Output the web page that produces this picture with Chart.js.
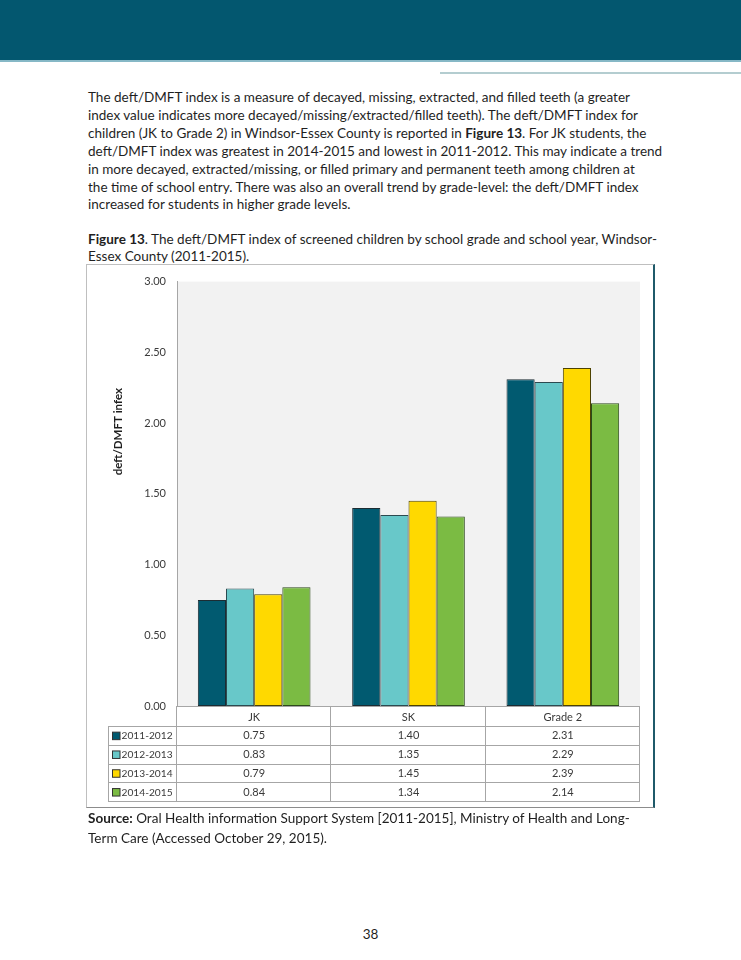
<!DOCTYPE html>
<html><head><meta charset="utf-8">
<script src="https://cdn.jsdelivr.net/npm/chart.js@4.4.0/dist/chart.umd.min.js"></script>
<style>
html,body{margin:0;padding:0;background:#fff;}
body{width:741px;height:960px;position:relative;overflow:hidden;font-family:Lato,"Noto Sans",sans-serif;color:#1f1f1f;}
#hdr{position:absolute;left:0;top:0;width:741px;height:60px;background:#03576f;}
#hdrline{position:absolute;left:0;top:60px;width:741px;height:2px;background:#86b8c6;}
#rule{position:absolute;left:440px;top:72px;width:301px;height:2px;background:#b4cdd0;}
.txt{position:absolute;left:88px;white-space:nowrap;font-size:12.2px;}
#para{top:89px;line-height:17.9px;}
#cap{top:231px;line-height:17px;}
#src{top:809px;line-height:19.5px;}
#pg{position:absolute;left:0;width:741px;text-align:center;top:925px;line-height:18px;font-size:12.2px;}
#frame{position:absolute;left:86px;top:264px;width:569px;height:544px;box-sizing:border-box;border-left:1px solid #bfbfbf;border-top:1px solid #bfbfbf;border-bottom:1px solid #8c8c8c;border-right:2px solid #1f5a6a;pointer-events:none;}
#cv{position:absolute;left:86px;top:264px;}
</style></head>
<body>
<div id="hdr"></div><div id="hdrline"></div><div id="rule"></div>
<div id="para" class="txt"><span id="l1">The deft/DMFT index is a measure of decayed, missing, extracted, and filled teeth (a greater</span><br>index value indicates more decayed/missing/extracted/filled teeth). The deft/DMFT index for<br>children (JK to Grade 2) in Windsor-Essex County is reported in <b>Figure 13</b>. For JK students, the<br>deft/DMFT index was greatest in 2014-2015 and lowest in 2011-2012. This may indicate a trend<br>in more decayed, extracted/missing, or filled primary and permanent teeth among children at<br>the time of school entry. There was also an overall trend by grade-level: the deft/DMFT index<br>increased for students in higher grade levels.</div>
<div id="cap" class="txt"><b>Figure 13</b>. The deft/DMFT index of screened children by school grade and school year, Windsor-<br>Essex County (2011-2015).</div>
<canvas id="cv" width="568" height="543"></canvas>
<div id="frame"></div>
<div id="src" class="txt"><b>Source:</b> Oral Health information Support System [2011-2015], Ministry of Health and Long-<br>Term Care (Accessed October 29, 2015).</div>
<div id="pg">38</div>
<script>
// ---- data ----
const categories = ['JK', 'SK', 'Grade 2'];
const seriesLabels = ['2011-2012', '2012-2013', '2013-2014', '2014-2015'];
const values2011_2012 = [0.75, 1.40, 2.31];
const values2012_2013 = [0.83, 1.35, 2.29];
const values2013_2014 = [0.79, 1.45, 2.39];
const values2014_2015 = [0.84, 1.34, 2.14];
const yTickValues = [0, 0.5, 1.0, 1.5, 2.0, 2.5, 3.0];
const yAxisTitle = 'deft/DMFT infex';

// ---- styles ----
const seriesColors = ['#015a70', '#68c8c9', '#ffd900', '#7bbb43'];
const seriesBorders = ['#1c2c33', '#2c4a50', '#4d4200', '#2d4a1b'];
const allValues = [values2011_2012, values2012_2013, values2013_2014, values2014_2015];

// fit body text width
(function(){
  const mc = document.createElement('canvas').getContext('2d');
  mc.font = '100px Lato';
  const w = mc.measureText(document.getElementById('l1').textContent).width;
  const fs = 100 * 543 / w;
  document.querySelectorAll('.txt,#pg').forEach(e => e.style.fontSize = fs + 'px');
})();

const tablePlugin = {
  id: 'tbl',
  beforeDraw(chart) {
    const {ctx, chartArea: a} = chart;
    ctx.save();
    ctx.fillStyle = '#f2f2f2';
    ctx.fillRect(a.left, a.top, a.right - a.left, a.bottom - a.top);
    ctx.restore();
  },
  afterDraw(chart) {
    const {ctx, chartArea: a} = chart;
    const x = chart.scales.x;
    const n = categories.length;
    const centers = categories.map((c, i) => x.getPixelForValue(i));
    const bounds = [a.left];
    for (let i = 0; i < n - 1; i++) bounds.push((centers[i] + centers[i + 1]) / 2);
    bounds.push(a.right);
    const top = a.bottom, catH = 20, rowH = 18.8;
    const legLeft = a.left - 69;
    const bottom = top + catH + rowH * seriesLabels.length;
    ctx.save();
    ctx.strokeStyle = '#a6a6a6';
    ctx.lineWidth = 1;
    const hl = (x1, x2, y) => { y = Math.round(y) + 0.5; ctx.beginPath(); ctx.moveTo(x1, y); ctx.lineTo(x2, y); ctx.stroke(); };
    const vl = (xx, y1, y2) => { xx = Math.round(xx) - 0.5; ctx.beginPath(); ctx.moveTo(xx, y1); ctx.lineTo(xx, y2); ctx.stroke(); };
    hl(a.left, a.right, top);
    for (let k = 0; k <= seriesLabels.length; k++) hl(legLeft, a.right, top + catH + k * rowH);
    vl(legLeft + 1, top + catH, bottom);
    bounds.forEach(b => vl(b, top, bottom));
    ctx.fillStyle = '#3a3a3a';
    ctx.textAlign = 'center';
    ctx.textBaseline = 'middle';
    ctx.font = '11px Lato';
    categories.forEach((c, i) => ctx.fillText(c, centers[i], top + catH / 2 + 1));
    seriesLabels.forEach((s, k) => {
      const cy = top + catH + k * rowH + rowH / 2 + 0.5;
      ctx.font = '11px Lato';
      allValues[k].forEach((v, i) => ctx.fillText(v.toFixed(2), centers[i], cy));
      ctx.fillStyle = seriesColors[k];
      ctx.fillRect(legLeft + 4.5, cy - 3.75, 7.5, 7.5);
      ctx.strokeStyle = '#333';
      ctx.strokeRect(legLeft + 4.5, cy - 3.75, 7.5, 7.5);
      ctx.fillStyle = '#3a3a3a';
      ctx.textAlign = 'left';
      ctx.font = '10.2px Lato';
      ctx.fillText(s, legLeft + 13.5, cy);
      ctx.textAlign = 'center';
    });
    // y-axis title
    ctx.translate(a.left - 59, a.top + 150);
    ctx.rotate(-Math.PI / 2);
    ctx.font = 'bold 11.5px Lato';
    ctx.fillStyle = '#1f1f1f';
    ctx.fillText(yAxisTitle, 0, 0);
    ctx.restore();
  }
};

new Chart(document.getElementById('cv'), {
  type: 'bar',
  data: {
    labels: categories,
    datasets: seriesLabels.map((s, k) => ({
      label: s,
      data: allValues[k],
      backgroundColor: seriesColors[k],
      borderColor: seriesBorders[k],
      borderWidth: 1,
      borderSkipped: false,
      categoryPercentage: 0.73,
      barPercentage: 1.0
    }))
  },
  options: {
    responsive: false,
    animation: false,
    devicePixelRatio: 1,
    layout: {padding: {left: 0, top: 14, right: 14, bottom: 101}},
    plugins: {legend: {display: false}, tooltip: {enabled: false}},
    scales: {
      x: {display: false},
      y: {
        min: 0, max: 3,
        afterBuildTicks: s => { s.ticks = yTickValues.map(v => ({value: v})); },
        afterFit: s => { s.width = 91; },
        grid: {display: false, drawTicks: false},
        border: {display: true, color: '#a6a6a6', width: 1},
        ticks: {padding: 11, color: '#3a3a3a', font: {family: 'Lato', size: 11}, callback: v => Number(v).toFixed(2)}
      }
    }
  },
  plugins: [tablePlugin]
});
</script>
</body></html>
